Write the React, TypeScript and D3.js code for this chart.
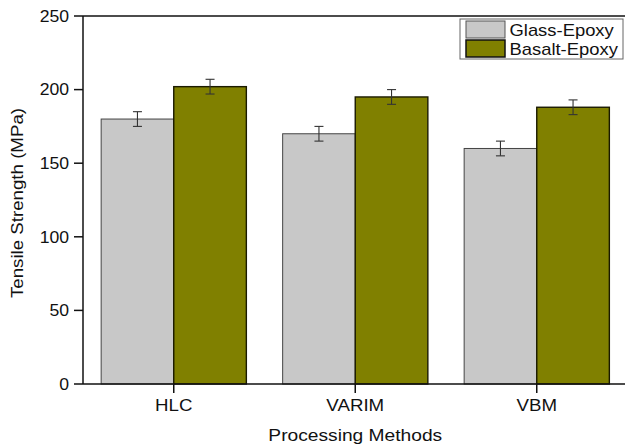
import React from "react";
import * as d3 from "d3";

const categories = ["HLC", "VARIM", "VBM"];
const seriesNames = ["Glass-Epoxy", "Basalt-Epoxy"];
const glassValues = [180, 170, 160];
const basaltValues = [202, 195, 188];
const glassErrors = [5, 5, 5];
const basaltErrors = [5, 5, 5];
const yTicks = [0, 50, 100, 150, 200, 250];

const W = 625;
const H = 448;
const left = 83;
const right = 627.5;
const top = 16;
const bottom = 384;
const colors = ["#c8c8c8", "#808000"];
const font = "'Liberation Sans', Arial, sans-serif";

function SText({ x, y, sx = 1.17, size = 16, anchor = "middle", children }: any) {
  return (
    <text
      transform={`translate(${x},${y}) scale(${sx},1)`}
      textAnchor={anchor}
      fontFamily={font}
      fontSize={size}
      fill="#111"
    >
      {children}
    </text>
  );
}

export default function App() {
  const y = d3.scaleLinear().domain([0, 250]).range([bottom, top]);
  const x = d3
    .scaleBand<string>()
    .domain(categories)
    .range([left, right])
    .paddingInner(0.2)
    .paddingOuter(0.1);
  const sub = d3.scaleBand<string>().domain(seriesNames).range([0, x.bandwidth()]).padding(0);
  const values = [glassValues, basaltValues];
  const errors = [glassErrors, basaltErrors];

  return (
    <svg width={W} height={H} style={{ position: "absolute", left: 0, top: 0 }}>
      <rect x={0} y={0} width={W} height={H} fill="#fff" />
      {categories.map((c, ci) =>
        seriesNames.map((s, si) => {
          const bx = (x(c) as number) + (sub(s) as number);
          const v = values[si][ci];
          return (
            <rect
              key={c + s}
              x={bx}
              y={y(v)}
              width={sub.bandwidth()}
              height={y(0) - y(v)}
              fill={colors[si]}
              stroke={si === 0 ? "#444" : "#1a1a00"}
              strokeWidth={si === 0 ? 1 : 1.4}
            />
          );
        })
      )}
      {categories.map((c, ci) =>
        seriesNames.map((s, si) => {
          const cx = (x(c) as number) + (sub(s) as number) + sub.bandwidth() / 2;
          const v = values[si][ci];
          const e = errors[si][ci];
          const y1 = y(v + e);
          const y2 = y(v - e);
          return (
            <g key={"e" + c + s} stroke="#333" strokeWidth={1.1}>
              <line x1={cx} x2={cx} y1={y1} y2={y2} />
              <line x1={cx - 4.5} x2={cx + 4.5} y1={y1} y2={y1} />
              <line x1={cx - 4.5} x2={cx + 4.5} y1={y2} y2={y2} />
            </g>
          );
        })
      )}
      <line x1={left} x2={right} y1={top} y2={top} stroke="#111" strokeWidth={1.5} />
      <line x1={left} x2={right} y1={bottom} y2={bottom} stroke="#111" strokeWidth={1.5} />
      <line x1={left} x2={left} y1={top} y2={bottom} stroke="#111" strokeWidth={1.5} />
      <line x1={right} x2={right} y1={top} y2={bottom} stroke="#111" strokeWidth={1.5} />
      {yTicks.map((t) => (
        <g key={"yt" + t}>
          <line x1={left - 9} x2={left} y1={y(t)} y2={y(t)} stroke="#111" strokeWidth={1.5} />
          <SText x={69} y={y(t) + 5.8} anchor="end" size={16} sx={1.1}>
            {t}
          </SText>
        </g>
      ))}
      {categories.map((c) => {
        const cx = (x(c) as number) + x.bandwidth() / 2;
        return (
          <g key={"xt" + c}>
            <line x1={cx} x2={cx} y1={bottom} y2={bottom + 9} stroke="#111" strokeWidth={1.5} />
            <SText x={cx} y={410.7}>
              {c}
            </SText>
          </g>
        );
      })}
      <SText x={(left + right) / 2} y={440.7} sx={1.2}>
        Processing Methods
      </SText>
      <text
        transform={`translate(23,203) rotate(-90)`}
        textAnchor="middle"
        fontFamily={font}
        fontSize={16.5}
        textLength={190}
        lengthAdjust="spacingAndGlyphs"
        fill="#111"
      >
        Tensile Strength (MPa)
      </text>
      <rect x={460} y={19} width={163} height={40} fill="#fff" stroke="#666" strokeWidth={1} />
      {seriesNames.map((s, si) => (
        <g key={"lg" + s}>
          <rect
            x={466}
            y={21 + si * 19}
            width={39}
            height={17}
            fill={colors[si]}
            stroke={si === 0 ? "#555" : "#111"}
            strokeWidth={si === 0 ? 1 : 1.5}
          />
          <SText x={509.5} y={36 + si * 19} anchor="start" sx={1.15}>
            {s}
          </SText>
        </g>
      ))}
    </svg>
  );
}
